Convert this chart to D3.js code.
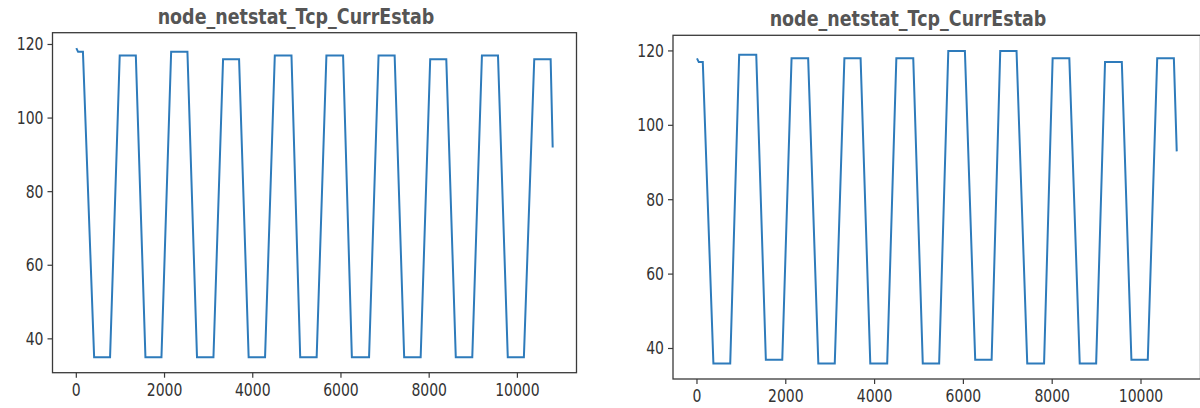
<!DOCTYPE html>
<html>
<head>
<meta charset="utf-8">
<script src="https://cdn.jsdelivr.net/npm/d3@7"></script>
<style>
  body { margin: 0; background: #fff; }
  svg { display: block; }
</style>
</head>
<body>
<div id="chart"></div>
<script>
var width = 1200;
var height = 408;

var titleText = 'node_netstat_Tcp_CurrEstab';
var xTicks = [0, 2000, 4000, 6000, 8000, 10000];
var yTicks = [40, 60, 80, 100, 120];

// left panel
var leftHead = [[0, 119], [40, 118], [150, 118]];
var leftTroughStart = [404, 1567, 2736, 3907, 5076, 6247, 7433, 8603, 9782];
var leftTroughEnd = [765, 1930, 3109, 4279, 5449, 6637, 7807, 8977, 10147];
var leftTroughLevel = [35, 35, 35, 35, 35, 35, 35, 35, 35];
var leftPeakStart = [984, 2150, 3327, 4500, 5670, 6852, 8023, 9196, 10382];
var leftPeakEnd = [1349, 2519, 3690, 4878, 6048, 7217, 8388, 9560, 10754];
var leftPeakLevel = [117, 118, 116, 117, 117, 117, 116, 117, 116];
var leftTail = [[10800, 92]];

// right panel
var rightHead = [[0, 118], [40, 117], [131, 117]];
var rightTroughStart = [370, 1551, 2733, 3903, 5085, 6266, 7438, 8620, 9784];
var rightTroughEnd = [749, 1921, 3103, 4284, 5454, 6636, 7817, 8990, 10153];
var rightTroughLevel = [36, 37, 36, 36, 36, 37, 36, 36, 37];
var rightPeakStart = [950, 2130, 3320, 4490, 5660, 6830, 8010, 9190, 10365];
var rightPeakEnd = [1335, 2504, 3685, 4871, 6034, 7197, 8386, 9568, 10740];
var rightPeakLevel = [119, 118, 118, 118, 120, 120, 118, 117, 118];
var rightTail = [[10805, 93]];

function buildSeries(head, tS, tE, tL, pS, pE, pL, tail){
  var pts = head.slice();
  for(var i = 0; i < tS.length; i++){
    pts.push([tS[i], tL[i]]);
    pts.push([tE[i], tL[i]]);
    pts.push([pS[i], pL[i]]);
    pts.push([pE[i], pL[i]]);
  }
  return pts.concat(tail);
}

var panels = [
  {
    left: 52.5, right: 576.5, top: 32.7, bottom: 372.7, titleX: 296,
    xDomain: [-540, 11340], yDomain: [30.8, 123.2],
    data: buildSeries(leftHead, leftTroughStart, leftTroughEnd, leftTroughLevel,
                      leftPeakStart, leftPeakEnd, leftPeakLevel, leftTail)
  },
  {
    left: 673, right: 1200.5, top: 35.3, bottom: 379, titleX: 908,
    xDomain: [-540, 11340], yDomain: [31.8, 124.2],
    data: buildSeries(rightHead, rightTroughStart, rightTroughEnd, rightTroughLevel,
                      rightPeakStart, rightPeakEnd, rightPeakLevel, rightTail)
  }
];

var svg = d3.select('#chart').append('svg')
            .attr('width', width).attr('height', height);

var stretch = 1.2;

panels.forEach(function(p){
  var x = d3.scaleLinear().domain(p.xDomain).range([p.left, p.right]);
  var y = d3.scaleLinear().domain(p.yDomain).range([p.bottom, p.top]);

  var g = svg.append('g');

  // line
  var line = d3.line().x(function(d){ return x(d[0]); }).y(function(d){ return y(d[1]); });
  g.append('path')
      .datum(p.data)
      .attr('fill', 'none')
      .attr('stroke', '#2e7bbb')
      .attr('stroke-width', 2)
      .attr('d', line);

  // frame
  g.append('rect')
      .attr('x', p.left).attr('y', p.top)
      .attr('width', p.right - p.left).attr('height', p.bottom - p.top)
      .attr('fill', 'none')
      .attr('stroke', '#3a3a3a')
      .attr('stroke-width', 1.3);

  // x ticks
  xTicks.forEach(function(t){
    g.append('line')
        .attr('x1', x(t)).attr('x2', x(t))
        .attr('y1', p.bottom).attr('y2', p.bottom + 5)
        .attr('stroke', '#3a3a3a').attr('stroke-width', 1.2);
    g.append('text')
        .attr('transform', 'translate(' + x(t) + ',' + (p.bottom + 23) + ') scale(1,' + stretch + ')')
        .attr('text-anchor', 'middle')
        .attr('font-family', 'DejaVu Sans')
        .attr('font-size', '14px')
        .attr('fill', '#333')
        .text(t);
  });

  // y ticks
  yTicks.forEach(function(t){
    g.append('line')
        .attr('x1', p.left - 5).attr('x2', p.left)
        .attr('y1', y(t)).attr('y2', y(t))
        .attr('stroke', '#3a3a3a').attr('stroke-width', 1.2);
    g.append('text')
        .attr('transform', 'translate(' + (p.left - 9) + ',' + (y(t) + 6) + ') scale(1,' + stretch + ')')
        .attr('text-anchor', 'end')
        .attr('font-family', 'DejaVu Sans')
        .attr('font-size', '14px')
        .attr('fill', '#333')
        .text(t);
  });

  // title
  g.append('text')
      .attr('transform', 'translate(' + p.titleX + ',' + (p.top - 9) + ') scale(1,' + stretch + ')')
      .attr('text-anchor', 'middle')
      .attr('font-family', 'DejaVu Sans')
      .attr('font-weight', 'bold')
      .attr('font-size', '17.5px')
      .attr('fill', '#555')
      .text(titleText);
});
</script>
</body>
</html>
